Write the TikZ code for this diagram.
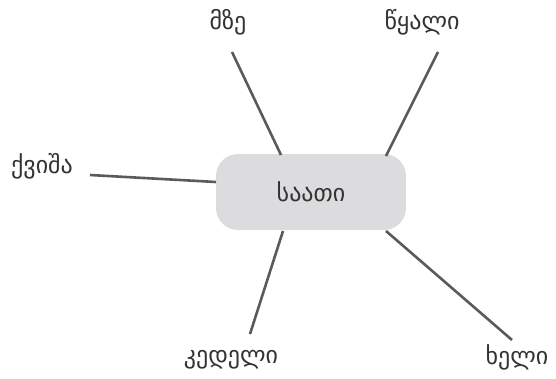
\documentclass[tikz,border=0pt]{standalone}
\usepackage{fontspec}
\setmainfont{DejaVu Sans}
\newfontfamily\geofont[Script=Georgian]{DejaVu Sans}
\definecolor{boxgray}{HTML}{DCDCDE}
\definecolor{linegray}{HTML}{5A5A5A}
\definecolor{textgray}{HTML}{333333}
\begin{document}
\begin{tikzpicture}[x=1pt,y=-1pt,
  lbl/.style={font=\geofont\fontsize{24}{28}\selectfont, text=textgray, inner sep=0pt},
  conn/.style={draw=linegray, line width=2.6pt},
  hub/.style={fill=boxgray, rounded corners=22pt, minimum width=190pt, minimum height=76pt, inner sep=0pt, font=\geofont\fontsize{24}{28}\selectfont, text=textgray}]
\useasboundingbox (0,0) rectangle (556,378);
\node[hub] (c) at (311,192) {საათი};
\node[lbl] (mze) at (228,22) {მზე};
\node[lbl] (wyali) at (422,22) {წყალი};
\node[lbl] (kvisha) at (42,166) {ქვიშა};
\node[lbl] (kedeli) at (231,360) {კედელი};
\node[lbl] (kheli) at (517,357) {ხელი};
\coordinate (a1) at (232,52); \coordinate (b1) at (281,155);
\coordinate (a2) at (438,52); \coordinate (b2) at (386,156);
\coordinate (a3) at (90,175); \coordinate (b3) at (216,182);
\coordinate (a4) at (250,334); \coordinate (b4) at (283,231);
\coordinate (a5) at (512,340); \coordinate (b5) at (386,231);
\draw[conn] (a1) -- (b1);
\draw[conn] (a2) -- (b2);
\draw[conn] (a3) -- (b3);
\draw[conn] (a4) -- (b4);
\draw[conn] (a5) -- (b5);
\end{tikzpicture}
\end{document}
